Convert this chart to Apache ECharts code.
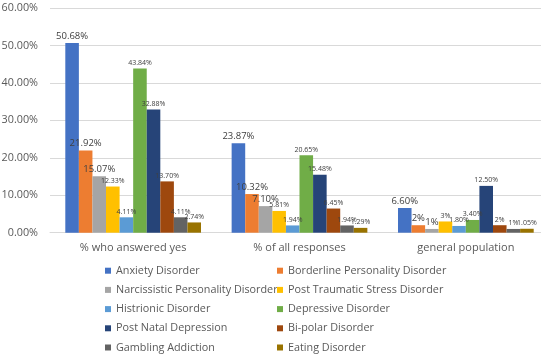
<!DOCTYPE html>
<html>
<head>
<meta charset="utf-8">
<script src="https://cdn.jsdelivr.net/npm/echarts@6/dist/echarts.min.js"></script>
<style>html,body{margin:0;padding:0;background:#fff}#c{width:541px;height:358px}</style>
</head>
<body>
<div id="c"></div>
<script>
var categories = ['% who answered yes', '% of all responses', 'general population'];
var seriesNames = ['Anxiety Disorder','Borderline Personality Disorder','Narcissistic Personality Disorder','Post Traumatic Stress Disorder','Histrionic Disorder','Depressive Disorder','Post Natal Depression','Bi-polar Disorder','Gambling Addiction','Eating Disorder'];
var anxiety      = [50.68, 23.87, 6.60];
var borderline   = [21.92, 10.32, 2];
var narcissistic = [15.07, 7.10, 1];
var ptsd         = [12.33, 5.81, 3];
var histrionic   = [4.11, 1.94, 1.80];
var depressive   = [43.84, 20.65, 3.40];
var postNatal    = [32.88, 15.48, 12.50];
var bipolar      = [13.70, 6.45, 2];
var gambling     = [4.11, 1.94, 1];
var eating       = [2.74, 1.29, 1.05];
var yTicks = [0, 10, 20, 30, 40, 50, 60];

var values = [anxiety, borderline, narcissistic, ptsd, histrionic, depressive, postNatal, bipolar, gambling, eating];
var colors = ['#4472C4','#ED7D31','#A5A5A5','#FFC000','#5B9BD5','#70AD47','#264478','#9E480E','#636363','#997300'];
var bigLabel = [true, true, true, false, false, false, false, false, false, false];
var FONT = '"Open Sans", "Noto Sans", sans-serif';

function fmt(v){ return Number.isInteger(v) ? v + '%' : v.toFixed(2) + '%'; }

var series = values.map(function(arr, i){
  return {
    name: seriesNames[i],
    type: 'bar',
    barGap: '0%',
    barCategoryGap: '18.4%',
    itemStyle: { color: colors[i] },
    label: {
      show: true, position: 'top', distance: 2,
      color: '#404040', fontFamily: FONT,
      fontSize: bigLabel[i] ? 9.5 : 7,
      formatter: function(p){ return fmt(p.value); }
    },
    data: arr
  };
});

var chart = echarts.init(document.getElementById('c'), null, {renderer: 'canvas'});
var legendText = { color: '#595959', fontSize: 10.8, fontFamily: FONT, lineHeight: 14 };
function legendCol(left, names){
  return { orient: 'vertical', left: left, top: 263.7, height: 94, padding: 0,
    itemWidth: 6, itemHeight: 6, itemGap: 5.2, icon: 'rect', textStyle: legendText, data: names };
}
chart.setOption({
  animation: false,
  backgroundColor: '#fff',
  grid: { left: 50, right: -8, top: 8, bottom: 125.3, outerBoundsMode: 'none', containLabel: false },
  xAxis: {
    type: 'category', data: categories,
    axisLine: { lineStyle: { color: '#d9d9d9' } },
    axisTick: { show: false },
    axisLabel: { color: '#595959', fontSize: 11, fontFamily: FONT, margin: 10 }
  },
  yAxis: {
    type: 'value', min: yTicks[0], max: yTicks[yTicks.length-1], interval: 10,
    axisLine: { show: false }, axisTick: { show: false },
    splitLine: { lineStyle: { color: '#d9d9d9' } },
    axisLabel: { color: '#595959', fontSize: 10.8, fontFamily: FONT, margin: 12,
      formatter: function(v){ return v.toFixed(2) + '%'; } }
  },
  legend: [
    legendCol(105, [seriesNames[0], seriesNames[2], seriesNames[4], seriesNames[6], seriesNames[8]]),
    legendCol(277, [seriesNames[1], seriesNames[3], seriesNames[5], seriesNames[7], seriesNames[9]])
  ],
  series: series
});
</script>
</body>
</html>
